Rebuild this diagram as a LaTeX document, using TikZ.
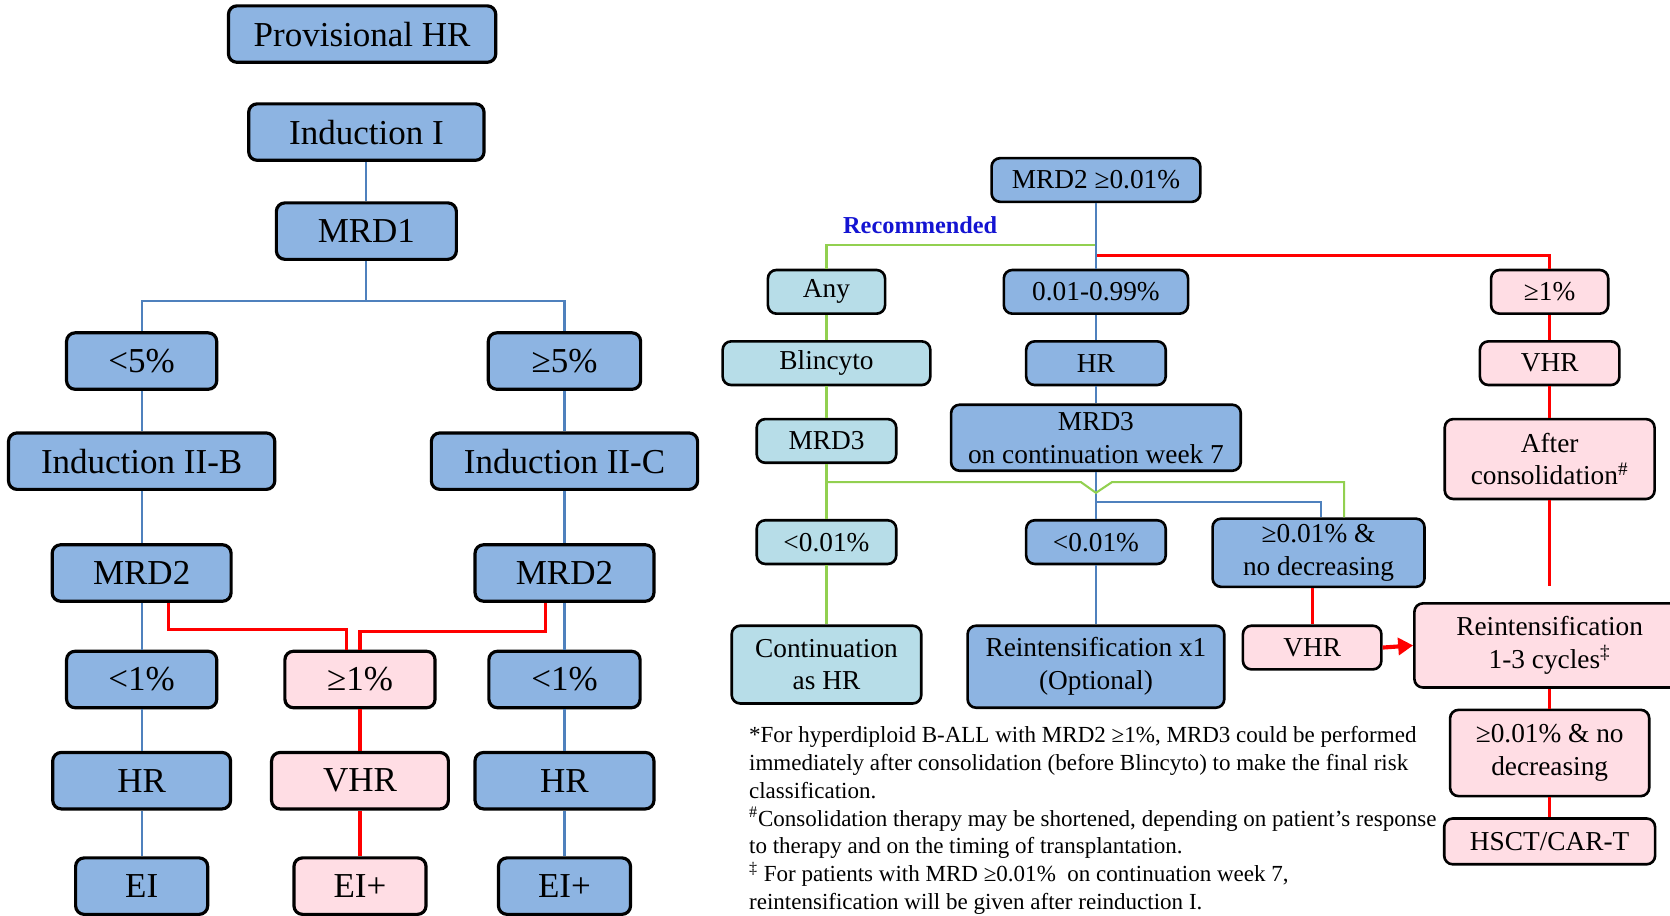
\documentclass[tikz,border=0pt]{standalone}
\usepackage{fontspec}
\setmainfont{Liberation Serif}
\usepackage{xcolor}
\usetikzlibrary{arrows.meta,calc}
\definecolor{boxblue}{RGB}{141,180,226}
\definecolor{boxcyan}{RGB}{183,221,232}
\definecolor{boxpink}{RGB}{255,221,228}
\definecolor{linkblue}{RGB}{79,129,189}
\definecolor{linkgreen}{RGB}{146,208,80}
\definecolor{recblue}{RGB}{20,20,210}
\tikzset{
  box/.style={rectangle,rounded corners=1.6mm,draw=black,fill=boxblue,
              minimum width=#1,align=center,inner sep=1pt},
  box/.default=26mm,
  bigbox/.style={box=#1,line width=1.7pt,minimum height=10.6mm,
                 font=\fontsize{18.7}{21}\selectfont},
  smallbox/.style={box=#1,line width=1.4pt,minimum height=8.2mm,
                   font=\fontsize{14.6}{17.6}\selectfont},
  blueline/.style={linkblue,line width=1.1pt},
  greenline/.style={linkgreen,line width=1.1pt},
  redline/.style={red,line width=1.7pt},
}
\begin{document}
\begin{tikzpicture}[x=0.2mm,y=-0.2mm]
  \useasboundingbox (0,0) rectangle (1568,860);
  % left tree
  \node[bigbox=50.2mm] (prov) at (340,32) {Provisional HR};
  \node[bigbox=44.2mm] (ind1) at (344,124) {Induction I};
  \node[bigbox=33.8mm] (mrd1) at (344,217) {MRD1};
  \node[bigbox=28.2mm] (lt5) at (133,339) {<5\%};
  \node[bigbox=28.6mm] (ge5) at (530,339) {≥5\%};
  \node[bigbox=50mm] (ind2b) at (133,433) {Induction II-B};
  \node[bigbox=50mm] (ind2c) at (530,433) {Induction II-C};
  \node[bigbox=33.6mm] (mrd2b) at (133,538) {MRD2};
  \node[bigbox=33.6mm] (mrd2c) at (530,538) {MRD2};
  \node[bigbox=28.2mm] (lt1b) at (133,638) {<1\%};
  \node[bigbox=28.2mm,fill=boxpink] (ge1) at (338,638) {≥1\%};
  \node[bigbox=28.4mm] (lt1c) at (530,638) {<1\%};
  \node[bigbox=33.4mm] (hrb) at (133,733) {HR};
  \node[bigbox=33.2mm,fill=boxpink] (vhr) at (338,733) {VHR};
  \node[bigbox=33.6mm] (hrc) at (530,733) {HR};
  \node[bigbox=24.8mm] (eib) at (133,832) {EI};
  \node[bigbox=24.8mm,fill=boxpink] (eiplus) at (338,832) {EI+};
  \node[bigbox=24.8mm] (eic) at (530,832) {EI+};

  \draw[blueline] (ind1.south) -- (mrd1.north);
  \coordinate (split1) at ($(mrd1.south)+(0,38)$);
  \draw[blueline] (mrd1.south) -- (split1);
  \draw[blueline] (lt5.north) |- (split1) -| (ge5.north);
  \foreach \a/\b in {lt5/ind2b,ind2b/mrd2b,mrd2b/lt1b,lt1b/hrb,hrb/eib,
                     ge5/ind2c,ind2c/mrd2c,mrd2c/lt1c,lt1c/hrc,hrc/eic}
    \draw[blueline] (\a.south) -- (\b.north);
  \foreach \a/\b in {ge1/vhr,vhr/eiplus}
    \draw[redline] (\a.south) -- (\b.north);
  \draw[redline] ([xshift=5.1mm]mrd2b.south) -- ++(0,25) -| ([xshift=-2.6mm]ge1.north);
  \draw[redline] ([xshift=-3.6mm]mrd2c.south) -- ++(0,27) -| (ge1.north);

  % right tree
  \node[smallbox=39.2mm] (mrdtop) at (1029,169) {MRD2 ≥0.01\%};
  \node[smallbox=22mm,fill=boxcyan] (any) at (776,274) {Any};
  \node[smallbox=34.6mm] (mid) at (1029,274) {0.01-0.99\%};
  \node[smallbox=22mm,fill=boxpink] (ge1r) at (1455,274) {≥1\%};
  \node[smallbox=39mm,fill=boxcyan] (blin) at (776,341) {Blincyto};
  \node[smallbox=26.2mm] (hrr) at (1029,341) {HR};
  \node[smallbox=26.2mm,fill=boxpink] (vhrr) at (1455,341) {VHR};
  \node[smallbox=26.2mm,fill=boxcyan] (mrd3a) at (776,414) {MRD3};
  \node[smallbox=54.4mm,minimum height=12.4mm] (mrd3b) at (1029,411)
    {MRD3\\on continuation week 7};
  \node[smallbox=39.4mm,minimum height=15mm,fill=boxpink] (after) at (1455,431)
    {After\\consolidation\textsuperscript{\#}};
  \node[smallbox=26.2mm,fill=boxcyan] (lt01a) at (776,509) {<0.01\%};
  \node[smallbox=26.2mm] (lt01b) at (1029,509) {<0.01\%};
  \node[smallbox=39.8mm,minimum height=12.8mm] (ge01) at (1238,519)
    {≥0.01\% \&\\no decreasing};
  \node[smallbox=35.6mm,minimum height=14.6mm,fill=boxcyan] (cont) at (776,624)
    {Continuation\\as HR};
  \node[smallbox=48.2mm,minimum height=15.4mm] (reint1) at (1029,626)
    {Reintensification x1\\(Optional)};
  \node[smallbox=26mm,fill=boxpink] (vhrs) at (1232,608) {VHR};
  \node[smallbox=50.8mm,minimum height=15.8mm,fill=boxpink] (reint3) at (1455,606)
    {Reintensification\\1-3 cycles\textsuperscript{‡}};
  \node[smallbox=37.4mm,minimum height=16.2mm,fill=boxpink] (ge01p) at (1455,707)
    {≥0.01\% \& no\\decreasing};
  \node[smallbox=39.6mm,minimum height=8.6mm,fill=boxpink] (hsct) at (1455,790)
    {HSCT/CAR-T};

  \node[font=\bfseries\fontsize{13}{15}\selectfont,text=recblue] (rec) at (864,211)
    {Recommended};

  \coordinate (gsplit) at ($(mrdtop.south)+(0,39)$);
  \coordinate (rsplit) at ($(mrdtop.south)+(0,49)$);
  \draw[greenline] (any.north) |- (gsplit);
  \draw[redline] (rsplit) -| (ge1r.north);
  \foreach \a/\b in {mrdtop/mid,mid/hrr,hrr/mrd3b,mrd3b/lt01b,lt01b/reint1}
    \draw[blueline] (\a.south) -- (\b.north);
  \foreach \a/\b in {any/blin,blin/mrd3a,mrd3a/lt01a,lt01a/cont}
    \draw[greenline] (\a.south) -- (\b.north);
  \coordinate (bsplit) at ($(mrd3b.south)+(0,28)$);
  \draw[blueline] (bsplit) -| ([xshift=0.4mm]ge01.north);
  \coordinate (gsplit2) at ($(mrd3a.south)+(0,17)$);
  \draw[greenline] (gsplit2) -- ($(gsplit2 -| mrd3b.south)+(-14,0)$)
    -- ++(14,10) -- ++(15,-10) -| ([xshift=4.8mm]ge01.north);

  \foreach \a/\b in {ge1r/vhrr,vhrr/after,reint3/ge01p,ge01p/hsct}
    \draw[redline] (\a.south) -- (\b.north);
  \draw[redline] (vhrs.north |- ge01.south) -- (vhrs.north);
  \draw[redline,shorten >=3mm] (after.south) -- (reint3.north);
  \draw[redline,line width=2.2pt,-{Triangle[length=2.8mm,width=3.2mm]}]
    (vhrs.east) -- (reint3.west);

  % footnotes
  \node[anchor=north west,align=left,inner sep=0pt,
        font=\fontsize{12.3}{14.8}\selectfont] (notes) at (703,682)
    {*For hyperdiploid B-ALL with MRD2 ≥1\%, MRD3 could be performed\\
     immediately after consolidation (before Blincyto) to make the final risk\\
     classification.\\
     \textsuperscript{\#}Consolidation therapy may be shortened, depending on patient’s response\\
     to therapy and on the timing of transplantation.\\
     \textsuperscript{‡} For patients with MRD ≥0.01\%\ \ on continuation week 7,\\
     reintensification will be given after reinduction I.};
\end{tikzpicture}
\end{document}
